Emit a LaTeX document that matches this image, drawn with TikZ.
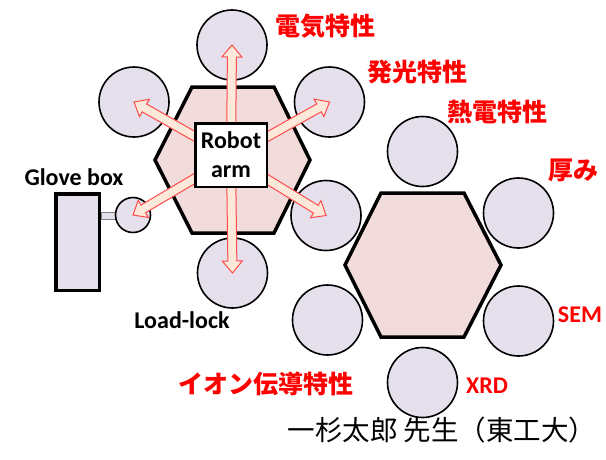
\documentclass[tikz,border=0pt]{standalone}
\usepackage{fontspec}
\setmainfont{Carlito}
\newfontfamily\jp{Noto Sans CJK JP}
\usetikzlibrary{calc}
\definecolor{lav}{HTML}{E5E0EC}
\definecolor{hexfill}{HTML}{F2DCDB}
\definecolor{arrfill}{HTML}{FDE9D9}
\definecolor{arrline}{HTML}{FF4B4B}
\definecolor{lblred}{HTML}{FF0000}
\tikzset{
  stn/.style={circle, draw=black, line width=1.6pt, fill=lav, inner sep=0pt, minimum size=70pt},
  hexch/.style={draw=black, line width=3.5pt, fill=hexfill, line join=miter},
  fatarrow/.style={fill=arrfill, draw=arrline, line width=1pt, line join=miter},
  jplbl/.style={inner sep=0pt, text=lblred, font=\jp\bfseries\fontsize{25}{30}\selectfont},
  enlbl/.style={inner sep=0pt, font=\bfseries\fontsize{24}{29}\selectfont},
}
\newcommand\fatarr[2]{%
  \filldraw[fatarrow] ($(#1)!4.5pt!90:(#2)$) -- ($(#2)!12pt!(#1)!4.5pt!90:(#2)$)
    -- ($(#2)!12pt!(#1)!10pt!90:(#2)$) -- (#2) -- ($(#2)!12pt!(#1)!10pt!-90:(#2)$)
    -- ($(#2)!12pt!(#1)!4.5pt!-90:(#2)$) -- ($(#1)!4.5pt!-90:(#2)$) -- cycle;}
\begin{document}
\begin{tikzpicture}[x=1pt,y=-1pt]
\useasboundingbox (0,0) rectangle (606,459);
% hexagonal chambers
\draw[hexch] (155,160) -- (192,87) -- (274,87) -- (310,160) -- (274,233) -- (192,233) -- cycle;
\draw[hexch] (345,265) -- (381,193) -- (464,193) -- (501,265) -- (464,337) -- (381,337) -- cycle;
% glove box
\node[draw=black, line width=3.5pt, fill=lav, minimum width=43.5pt, minimum height=96.5pt, inner sep=0pt] (gb) at (77.5,242) {};
\node[draw=gray, line width=0.8pt, fill=lav, minimum width=15pt, minimum height=7pt, inner sep=0pt] (gbar) at (108.5,216) {};
% stations around left chamber
\node[stn] (lt) at (232,45) {};
\node[stn] (lur) at (329.5,102) {};
\node[stn] (lul) at (134,102) {};
\node[stn] (lb) at (232.5,273) {};
\node[stn] (shared) at (326,215.5) {};
\node[stn, minimum size=35pt] (ll) at (133,215) {};
% stations around right chamber
\node[stn] (rt) at (422.5,151.5) {};
\node[stn] (rur) at (518.5,213) {};
\node[stn] (rlr) at (518.5,321) {};
\node[stn] (rb) at (422.5,382.5) {};
\node[stn] (rll) at (327.5,320) {};
% robot arm and arrows
\coordinate (rc) at (231,157);
\fatarr{rc}{lt.center}
\fatarr{rc}{lb.center}
\fatarr{rc}{lul.center}
\fatarr{rc}{lur.center}
\fatarr{rc}{shared.center}
\fatarr{rc}{ll.center}
\node[draw=black, line width=2.5pt, fill=white, minimum width=71.5pt, minimum height=63.5pt, inner sep=1pt, align=center, font=\bfseries\fontsize{24}{29}\selectfont] (robot) at (231,155) {Robot\\arm};
% labels
\node[enlbl] (gblbl) at (74,177) {Glove box};
\node[enlbl] (lllbl) at (182,320) {Load-lock};
\node[jplbl] (l1) at (325,26) {電気特性};
\node[jplbl] (l2) at (417,72) {発光特性};
\node[jplbl] (l3) at (497,112) {熱電特性};
\node[jplbl] (l4) at (573,170) {厚み};
\node[enlbl, text=lblred] (l5) at (580,315) {SEM};
\node[enlbl, text=lblred] (l6) at (487,386) {XRD};
\node[jplbl] (l7) at (266,384) {イオン伝導特性};
\node[inner sep=0pt, font=\jp\fontsize{27.5}{32}\selectfont] (credit) at (442,430) {一杉太郎 先生（東工大）};
\end{tikzpicture}
\end{document}
